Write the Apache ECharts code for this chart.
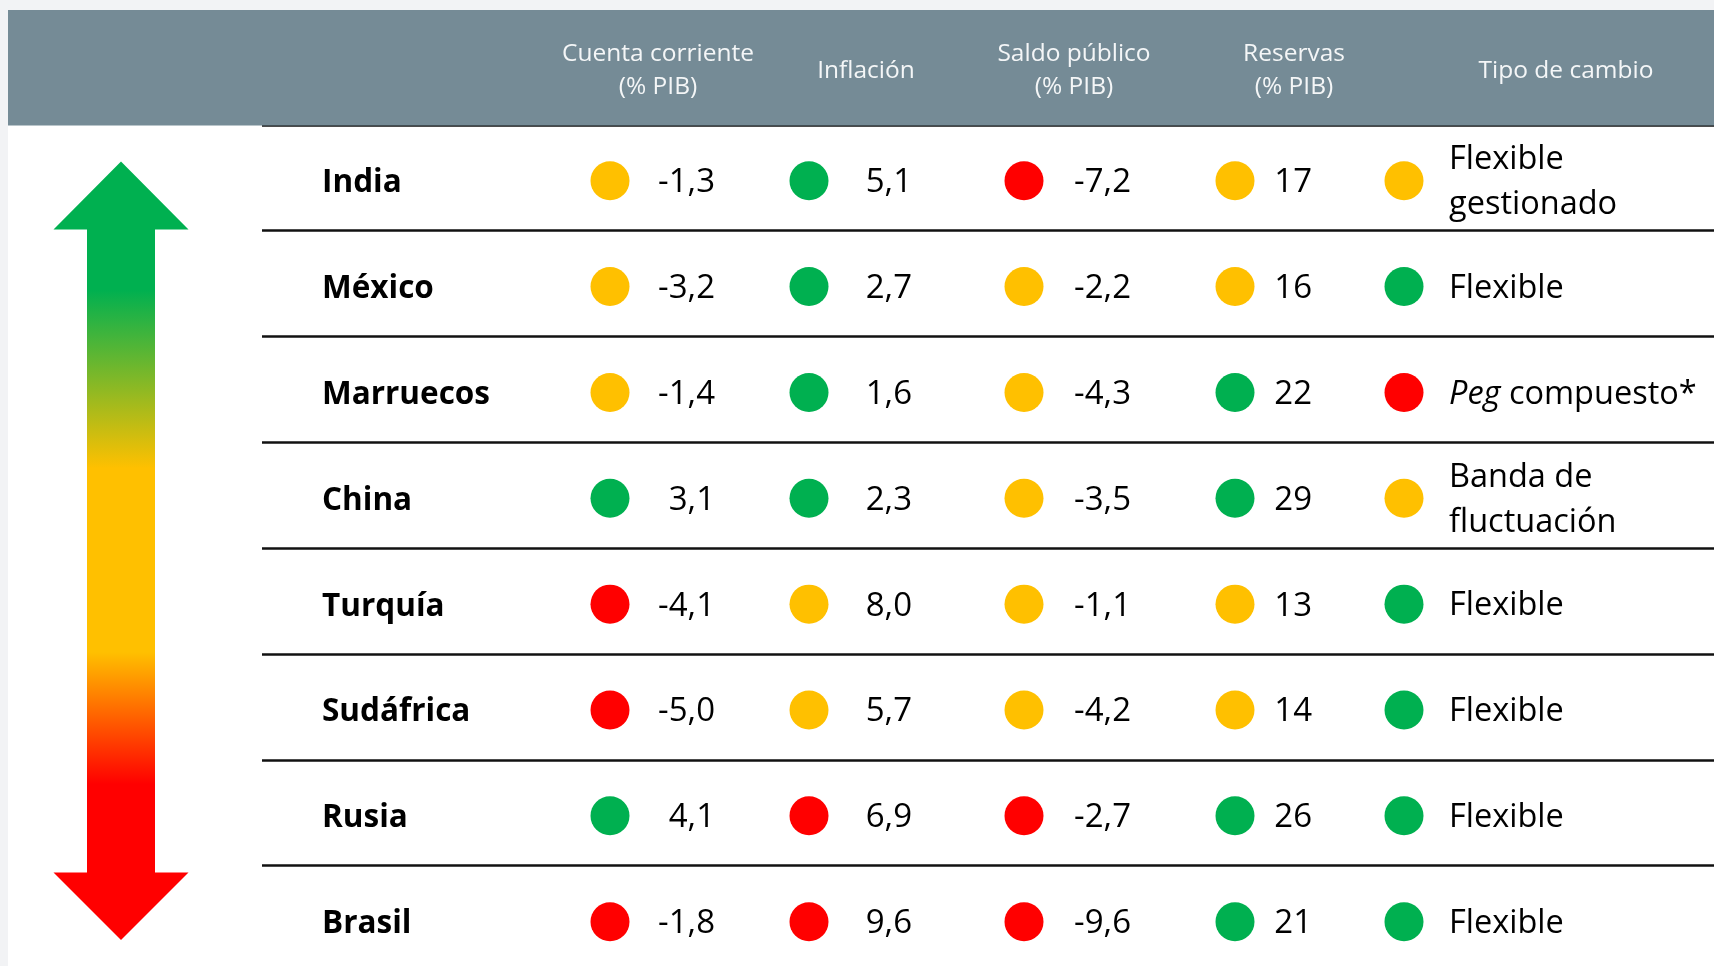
<!DOCTYPE html>
<html>
<head>
<meta charset="utf-8">
<script src="https://cdn.jsdelivr.net/npm/echarts@6/dist/echarts.min.js"></script>
<style>
  html, body { margin: 0; padding: 0; background: #fff; }
  #chart { width: 1714px; height: 966px; }
</style>
</head>
<body>
<div id="chart"></div>
<script>
const countries = ['India', 'México', 'Marruecos', 'China', 'Turquía', 'Sudáfrica', 'Rusia', 'Brasil'];
const headers = ['Cuenta corriente\n(% PIB)', 'Inflación', 'Saldo público\n(% PIB)', 'Reservas\n(% PIB)', 'Tipo de cambio'];

const cuentaCorriente = [-1.3, -3.2, -1.4, 3.1, -4.1, -5.0, 4.1, -1.8];
const inflacion = [5.1, 2.7, 1.6, 2.3, 8.0, 5.7, 6.9, 9.6];
const saldoPublico = [-7.2, -2.2, -4.3, -3.5, -1.1, -4.2, -2.7, -9.6];
const reservas = [17, 16, 22, 29, 13, 14, 26, 21];
const tipoCambio = ['Flexible\ngestionado', 'Flexible', 'Peg compuesto*', 'Banda de\nfluctuación',
  'Flexible', 'Flexible', 'Flexible', 'Flexible'];

// semaforo: v = verde, a = amarillo, r = rojo
const semCuenta = ['a', 'a', 'a', 'v', 'r', 'r', 'v', 'r'];
const semInflacion = ['v', 'v', 'v', 'v', 'a', 'a', 'r', 'r'];
const semSaldo = ['r', 'a', 'a', 'a', 'a', 'a', 'r', 'r'];
const semReservas = ['a', 'a', 'v', 'v', 'a', 'a', 'v', 'v'];
const semTipo = ['a', 'v', 'r', 'a', 'v', 'v', 'v', 'v'];

const semColor = { v: '#00B050', a: '#FFC000', r: '#FF0000' };
const FONT = '"Open Sans", "Noto Sans", sans-serif';

// layout (px)
const nameX = 323;
const colX = [610, 809, 1024, 1235, 1404];
const textRight = [715, 912, 1131, 1312];
const headerX = [658, 866, 1074, 1294, 1566];
const DOT = 39;
const ROW_H = 105.85;

const fmt1 = v => v.toFixed(1).replace('.', ',');

const chart = echarts.init(document.getElementById('chart'));

function numSeries(c, values, sem, fmt) {
    return {
        type: 'scatter',
        silent: true,
        symbolSize: DOT,
        symbolOffset: [0, 3],
        data: countries.map((n, i) => ({
            value: [colX[c], n],
            itemStyle: { color: semColor[sem[i]], opacity: 1 },
            label: { formatter: fmt(values[i]) }
        })),
        label: {
            show: true,
            position: [textRight[c] - colX[c] + DOT / 2, '50%'],
            offset: [0, 2],
            align: 'right',
            verticalAlign: 'middle',
            color: '#000',
            fontSize: 33,
            fontFamily: FONT
        }
    };
}

const nameSeries = {
    type: 'scatter',
    silent: true,
    symbolSize: 2,
    symbolOffset: [0, 3],
    data: countries.map(n => ({
        value: [nameX, n],
        itemStyle: { color: 'rgba(0,0,0,0)', opacity: 1 },
        label: { formatter: n }
    })),
    label: {
        show: true,
        position: [0, '50%'],
        offset: [0, 2.5],
        align: 'left',
        verticalAlign: 'middle',
        color: '#000',
        opacity: 1,
        fontWeight: 'bold',
        fontSize: 31.5,
        fontFamily: FONT
    }
};

const tipoSeries = {
    type: 'scatter',
    silent: true,
    symbolSize: DOT,
    symbolOffset: [0, 3],
    data: countries.map((n, i) => ({
        value: [colX[4], n],
        itemStyle: { color: semColor[semTipo[i]], opacity: 1 },
        label: { formatter: tipoCambio[i].replace('Peg', '{i|Peg}') }
    })),
    label: {
        show: true,
        position: [45 + DOT / 2, '50%'],
        offset: [0, 2],
        align: 'left',
        verticalAlign: 'middle',
        color: '#000',
        fontSize: 32.5,
        lineHeight: 45,
        fontFamily: FONT,
        rich: {
            i: { fontStyle: 'italic', fontSize: 32.5, fontFamily: FONT, color: '#000', lineHeight: 45 }
        }
    }
};

const arrowPts = [
    [121, 161.5], [188.5, 229.5], [155, 229.5], [155, 872.5], [188.5, 872.5],
    [121, 940], [53.5, 872.5], [87, 872.5], [87, 229.5], [53.5, 229.5]
];

const option = {
    backgroundColor: '#ffffff',
    animation: false,
    grid: {
        left: 262,
        right: 0,
        top: 124.8,
        height: 8 * ROW_H,
        outerBoundsMode: 'none'
    },
    xAxis: {
        type: 'value',
        min: 262,
        max: 1714,
        show: false
    },
    yAxis: {
        type: 'category',
        data: countries,
        inverse: true,
        axisLine: { show: false },
        axisTick: { show: false },
        axisLabel: { show: false },
        splitLine: {
            show: true,
            lineStyle: { color: '#111', width: 2.5 }
        }
    },
    graphic: [
        { type: 'rect', z: 100, shape: { x: 0, y: 0, width: 1714, height: 10 }, style: { fill: '#f2f3f5' } },
        { type: 'rect', z: 100, shape: { x: 0, y: 0, width: 8, height: 966 }, style: { fill: '#f2f3f5' } },
        { type: 'rect', z: 100, shape: { x: 8, y: 10, width: 1706, height: 115.5 }, style: { fill: '#758B96' } },
        ...headers.map((h, c) => ({
            type: 'text',
            z: 101,
            style: {
                text: h,
                x: headerX[c],
                y: 71,
                textAlign: 'center',
                textVerticalAlign: 'middle',
                fill: '#f4f6f7',
                font: '24.5px ' + FONT,
                lineHeight: 33
            }
        })),
        {
            type: 'polygon',
            z: 100,
            shape: { points: arrowPts },
            style: {
                fill: new echarts.graphic.LinearGradient(0, 0, 0, 1, [
                    { offset: 0, color: '#00B050' },
                    { offset: 0.165, color: '#00B050' },
                    { offset: 0.394, color: '#FFC000' },
                    { offset: 0.63, color: '#FFC000' },
                    { offset: 0.8, color: '#FF0000' },
                    { offset: 1, color: '#FF0000' }
                ])
            }
        }
    ],
    series: [
        nameSeries,
        numSeries(0, cuentaCorriente, semCuenta, fmt1),
        numSeries(1, inflacion, semInflacion, fmt1),
        numSeries(2, saldoPublico, semSaldo, fmt1),
        numSeries(3, reservas, semReservas, v => String(v)),
        tipoSeries
    ]
};

chart.setOption(option);

window.addEventListener('resize', _ => {
    chart.resize();
});
</script>
</body>
</html>
